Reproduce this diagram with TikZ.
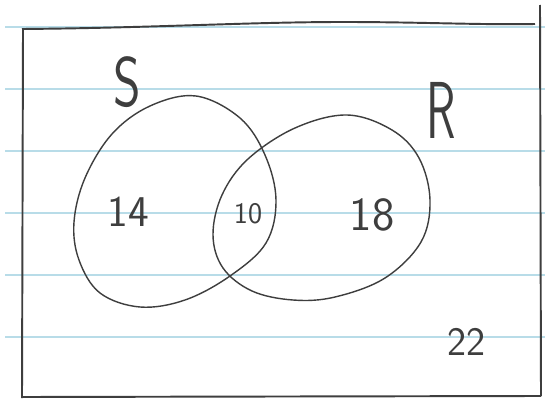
\documentclass[tikz,border=0pt]{standalone}
\usepackage{tikz}
\usepackage{xcolor}
\usetikzlibrary{positioning}
\definecolor{cInk}{RGB}{62,62,62}
\definecolor{cRule}{RGB}{184,220,232}
\tikzset{
	rule/.style    ={cRule, line width=0.8pt},
	frame/.style   ={cInk, line width=1.1pt, line join=round},
	setline/.style ={cInk, line width=0.8pt, smooth cycle, tension=0.6},
	setlab/.style  ={font=\sffamily\fontsize{40}{40}\selectfont, text=cInk, inner sep=0pt, xscale=0.75},
	count/.style   ={font=\sffamily\fontsize{25}{25}\selectfont, text=cInk, inner sep=0pt},
}
\begin{document}
\begin{tikzpicture}[x=0.02cm, y=-0.02cm]
	\useasboundingbox (0,0) rectangle (545,399);
	\fill[white] (0,0) rectangle (545,399);
	% ruled paper
	\foreach \y in {27,89,151,213,275,337} {
		\draw[rule] (5,\y) -- (545,\y);
	}
	% universal set
	\draw[frame] (23,30) -- (22,398);
	\draw[frame] (22,29) .. controls (150,28) and (250,22) .. (343,22) .. controls (420,22) and (480,25) .. (535,24);
	\draw[frame] (540,5) -- (541,396);
	\draw[frame] (22,397) -- (541,396);
	% the two sets
	\draw[setline] plot coordinates {(196,96) (240,118) (265,155) (276,200) (266,243) (230,276) (185,300) (140,307) (100,293) (79,260) (74,222) (85,178) (112,134) (150,106)};
	\draw[setline] plot coordinates {(347,115) (392,130) (419,158) (430,200) (421,242) (385,278) (335,297) (293,300) (252,291) (223,268) (213,235) (222,195) (248,159) (295,128)};
	% labels
	\node[setlab] (lblS) at (127,82) {S};
	\node[setlab, font=\sffamily\fontsize{46}{46}\selectfont, xscale=0.8] (lblR) at (441,110) {R};
	\node[count] (onlyS) at (128,212) {14};
	\node[count, font=\sffamily\fontsize{17}{17}\selectfont] (both) at (248,214) {10};
	\node[count, font=\sffamily\fontsize{27}{27}\selectfont] (onlyR) at (372,215) {18};
	\node[count, font=\sffamily\fontsize{23}{23}\selectfont] (outside) at (466,342) {22};
\end{tikzpicture}
\end{document}
